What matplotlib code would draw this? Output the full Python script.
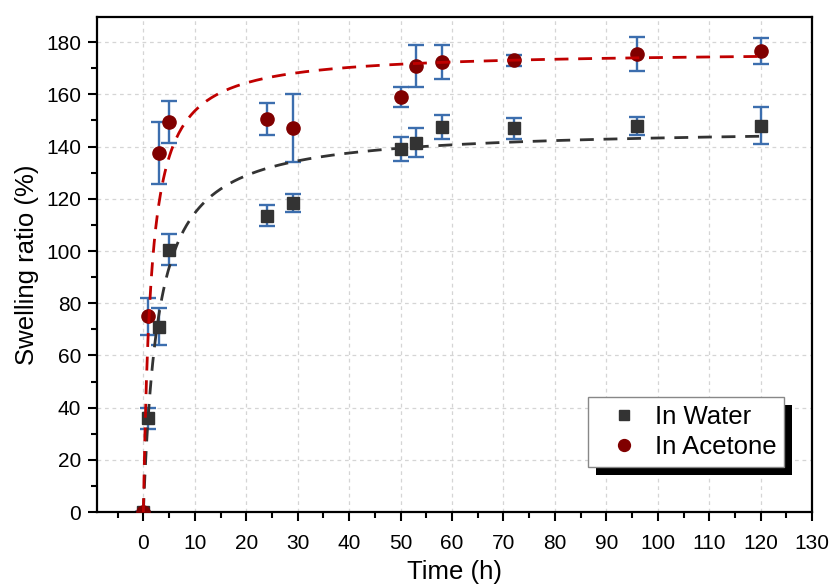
import numpy as np
import matplotlib
matplotlib.use("Agg")
import matplotlib.pyplot as plt
from matplotlib.patches import Rectangle
from matplotlib.ticker import MultipleLocator

plt.rcParams['font.family'] = ['Liberation Sans', 'DejaVu Sans']

# data
time_h = [0, 1, 3, 5, 24, 29, 50, 53, 58, 72, 96, 120]
water = [0, 36, 71, 100.5, 113.5, 118.5, 139, 141.5, 147.5, 147, 148, 148]
water_err = [0, 4, 7, 6, 4, 3.5, 4.5, 5.5, 4.5, 4, 3.5, 7]
acetone = [0, 75, 137.5, 149.5, 150.5, 147, 159, 171, 172.5, 173, 175.5, 176.5]
acetone_err = [0, 7, 12, 8, 6, 13, 4, 8, 6.5, 2, 6.5, 5]

# fitted curves S*t/(k+t), parameters
water_fit = (147.4, 2.87)
acetone_fit = (176.7, 1.5)

err_color = '#3c6eae'

fig, ax = plt.subplots(figsize=(8.33, 5.88), dpi=100)
fig.subplots_adjust(left=0.1165, right=0.975, top=0.971, bottom=0.129)

t = np.linspace(0, 120, 400)
ax.plot(t, water_fit[0] * t / (water_fit[1] + t), color='#333333', lw=2,
        dashes=(5, 3.5), zorder=4)
ax.plot(t, acetone_fit[0] * t / (acetone_fit[1] + t), color='#c00000', lw=2,
        dashes=(5, 3.5), zorder=4)

ax.errorbar(time_h, water, yerr=water_err, fmt='none', ecolor=err_color,
            elinewidth=1.7, capsize=5.5, capthick=1.7, zorder=2)
ax.errorbar(time_h, acetone, yerr=acetone_err, fmt='none', ecolor=err_color,
            elinewidth=1.7, capsize=5.5, capthick=1.7, zorder=2)
ax.plot(time_h, water, 's', color='#333333', ms=8.5, zorder=3, label='In Water')
ax.plot(time_h, acetone, 'o', color='#800000', ms=9.5, zorder=3, label='In Acetone')

ax.set_xlim(-9, 130)
ax.set_ylim(0, 189.6)
ax.xaxis.set_major_locator(MultipleLocator(10))
ax.xaxis.set_minor_locator(MultipleLocator(5))
ax.yaxis.set_major_locator(MultipleLocator(20))
ax.yaxis.set_minor_locator(MultipleLocator(10))
ax.set_xticks(np.arange(0, 131, 10))
ax.tick_params(which='major', direction='out', length=6.5, width=1.5, labelsize=15)
ax.tick_params(which='minor', direction='out', length=4, width=1.5)
ax.tick_params(axis='x', which='major', pad=9)
ax.tick_params(axis='y', which='major', pad=5)
for s in ax.spines.values():
    s.set_linewidth(1.6)

ax.grid(True, which='major', color='#d5d5d5', linestyle=(0, (3, 3)), linewidth=0.9)
ax.set_axisbelow(True)

ax.set_xlabel('Time (h)', fontsize=18.5, labelpad=5)
ax.set_ylabel('Swelling ratio (%)', fontsize=18.5, labelpad=5)

leg = ax.legend(loc='upper left', bbox_to_anchor=(0.687, 0.232), fontsize=18.5,
                frameon=True, fancybox=False, edgecolor='#888888',
                framealpha=1, markerscale=0.9, handlelength=2.2,
                handletextpad=0.1, borderpad=0.3, labelspacing=0.25,
                borderaxespad=0)
leg.get_frame().set_linewidth(1.0)
leg.set_zorder(6)

fig.canvas.draw()
bb = leg.get_window_extent()
shadow = Rectangle((bb.x0 + 8, bb.y0 - 8), bb.width, bb.height, transform=None,
                   facecolor='black', edgecolor='none', zorder=5.5, clip_on=False)
ax.add_artist(shadow)

fig.savefig('out.png', dpi=100)
